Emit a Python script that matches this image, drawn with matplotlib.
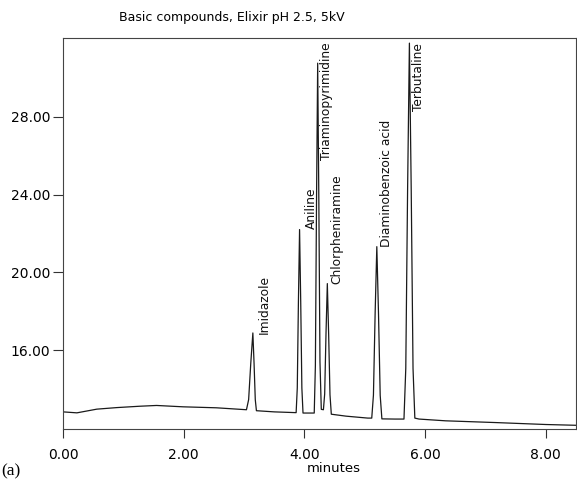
import matplotlib
matplotlib.use("Agg")
import matplotlib.pyplot as plt

# Electropherogram trace (minutes, signal)
time_min = [0.00, 0.23, 0.56, 0.89, 1.27, 1.55, 1.99, 2.54,
            3.04, 3.076, 3.111, 3.146, 3.166, 3.186, 3.205,
            3.50,
            3.863, 3.882, 3.901, 3.92, 3.939, 3.958, 3.977,
            4.10,
            4.163, 4.182, 4.201, 4.22, 4.239, 4.258, 4.28,
            4.315, 4.336, 4.358, 4.38, 4.402, 4.424, 4.446,
            4.69, 5.05,
            5.116, 5.144, 5.172, 5.20, 5.228, 5.256, 5.284,
            5.50,
            5.65, 5.68, 5.71, 5.74, 5.77, 5.80, 5.83,
            5.90, 6.34, 7.17, 8.00, 8.50]
signal = [12.82, 12.77, 12.96, 13.04, 13.11, 13.15, 13.08, 13.03,
          12.93, 13.45, 15.3, 16.88, 15.3, 13.45, 12.88,
          12.82,
          12.78, 14.05, 18.5, 22.2, 18.5, 14.05, 12.76,
          12.76,
          12.76, 15.2, 23.7, 30.76, 23.8, 15.4, 12.95,
          12.93, 13.74, 16.85, 19.42, 16.8, 13.7, 12.70,
          12.60, 12.50,
          12.50, 13.68, 17.87, 21.32, 17.87, 13.67, 12.46,
          12.45,
          12.45, 15.06, 24.25, 31.79, 24.25, 15.06, 12.50,
          12.45, 12.36, 12.27, 12.17, 12.13]

# Peak labels
peak_names = ["Imidazole", "Aniline", "Triaminopyrimidine", "Chlorpheniramine",
              "Diaminobenzoic acid", "Terbutaline"]
label_x = [3.34, 4.12, 4.37, 4.53, 5.36, 5.89]
label_y = [16.84, 22.24, 31.85, 19.42, 21.32, 31.80]
label_va = ["bottom", "bottom", "top", "bottom", "bottom", "top"]

x_ticks = [0, 2, 4, 6, 8]
y_ticks = [16, 20, 24, 28]

fig = plt.figure(figsize=(5.77, 4.82), dpi=100)
ax = fig.add_axes([0.1092, 0.110, 0.889, 0.811])

ax.plot(time_min, signal, color="#1a1a1a", lw=0.9)

ax.set_xlim(0, 8.5)
ax.set_ylim(11.94, 32.05)
ax.set_xticks(x_ticks)
ax.set_xticklabels([f"{v:.2f}" for v in x_ticks])
ax.set_yticks(y_ticks)
ax.set_yticklabels([f"{v:.2f}" for v in y_ticks])
ax.tick_params(axis="y", direction="out", length=7, width=0.8, pad=2,
               labelsize=10, color="#333333")
ax.tick_params(axis="x", direction="out", length=6.5, width=0.8, pad=7,
               labelsize=10, color="#333333")
for s in ax.spines.values():
    s.set_color("#444444")
    s.set_linewidth(0.8)

for name, lx, ly, va in zip(peak_names, label_x, label_y, label_va):
    ax.text(lx, ly, name, rotation=90, ha="center", va=va, fontsize=8.8,
            color="#111111")

fig.text(0.402, 0.963, "Basic compounds, Elixir pH 2.5, 5kV", ha="center",
         va="center", fontsize=9)
fig.text(0.579, 0.029, "minutes", ha="center", va="center", fontsize=9.5)
fig.text(0.003, 0.023, "(a)", ha="left", va="center", fontsize=12.5,
         family="Liberation Serif")

fig.savefig("out.png", dpi=100)
